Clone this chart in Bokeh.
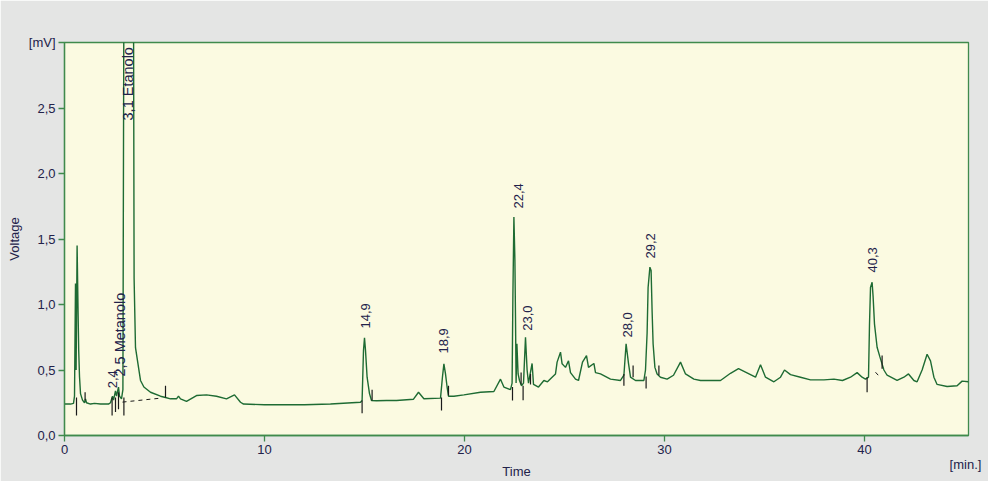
import math
from bokeh.plotting import figure
from bokeh.models import FixedTicker, LinearAxis, Range1d
from bokeh.core.properties import value
from bokeh.embed import file_html
from bokeh.resources import INLINE

# ---------------- data ----------------
time_min = [0.0, 0.3, 0.45, 0.5, 0.55, 0.58, 0.63, 0.68, 0.71, 0.75, 0.8, 0.9, 1.0, 1.05, 1.1, 1.3, 1.5, 1.8,
            2.2, 2.3, 2.4, 2.45, 2.55, 2.6, 2.7, 2.75, 2.85, 2.92, 2.97, 3.45, 3.48, 3.55, 3.8, 3.97, 4.3, 4.8,
            5.05, 5.3, 5.6, 5.7, 5.8, 6.1, 6.6, 7.1, 7.6, 8.1, 8.5, 8.8, 8.95, 10.0, 12.0, 13.3, 14.8, 14.88,
            14.95, 15.0, 15.05, 15.13, 15.25, 15.35, 15.6, 16.1, 16.6, 17.45, 17.7, 17.97, 18.8, 18.9, 18.97,
            19.05, 19.13, 19.2, 19.47, 19.97, 20.8, 21.47, 21.8, 21.97, 22.3, 22.38, 22.42, 22.47, 22.52, 22.55,
            22.58, 22.62, 22.68, 22.75, 22.85, 22.95, 23.05, 23.13, 23.2, 23.38, 23.45, 23.7, 23.97, 24.15,
            24.38, 24.55, 24.63, 24.8, 24.88, 25.05, 25.2, 25.3, 25.55, 25.7, 25.9, 26.1, 26.2, 26.47, 26.55,
            26.8, 27.3, 27.8, 27.97, 28.08, 28.2, 28.3, 28.55, 28.97, 29.05, 29.13, 29.18, 29.27, 29.33, 29.38,
            29.43, 29.52, 29.63, 29.8, 30.13, 30.45, 30.8, 31.05, 31.47, 31.8, 32.8, 33.3, 33.7, 34.1, 34.55,
            34.8, 35.05, 35.47, 35.8, 36.0, 36.3, 36.8, 37.3, 37.97, 38.47, 38.9, 39.3, 39.63, 39.88, 40.05,
            40.2, 40.25, 40.3, 40.38, 40.43, 40.5, 40.63, 40.77, 40.97, 41.13, 41.63, 41.97, 42.2, 42.47, 42.63,
            42.88, 43.13, 43.3, 43.47, 43.63, 44.13, 44.63, 44.88, 45.2]
voltage_mv = [0.24, 0.24, 0.245, 0.30, 1.16, 0.5, 1.45, 0.93, 0.65, 0.45, 0.32, 0.27, 0.25, 0.28, 0.25, 0.24, 0.245, 0.24,
              0.24, 0.25, 0.30, 0.27, 0.34, 0.30, 0.37, 0.30, 0.28, 0.35, 3.4, 3.4, 1.2, 0.67, 0.42, 0.37, 0.33, 0.30,
              0.29, 0.28, 0.28, 0.30, 0.28, 0.26, 0.305, 0.31, 0.30, 0.28, 0.31, 0.254, 0.24, 0.235, 0.235, 0.24, 0.254, 0.267,
              0.65, 0.746, 0.65, 0.445, 0.32, 0.267, 0.265, 0.267, 0.267, 0.277, 0.33, 0.28, 0.285, 0.45, 0.547,
              0.47, 0.37, 0.30, 0.30, 0.31, 0.33, 0.336, 0.43, 0.37, 0.35, 0.40, 1.07, 1.667, 1.34, 0.9,
              0.40, 0.70, 0.47, 0.42, 0.38, 0.40, 0.75, 0.50, 0.40, 0.55, 0.39, 0.37, 0.42, 0.41,
              0.445, 0.47, 0.56, 0.636, 0.547, 0.52, 0.57, 0.48, 0.43, 0.42, 0.56, 0.61, 0.52, 0.55, 0.48,
              0.47, 0.43, 0.42, 0.46, 0.70, 0.55, 0.445, 0.42, 0.42, 0.50, 0.78, 1.13, 1.285, 1.26, 0.95,
              0.70, 0.52, 0.47, 0.445, 0.43, 0.46, 0.56, 0.47, 0.43, 0.42, 0.42, 0.475, 0.51, 0.48, 0.445,
              0.54, 0.445, 0.41, 0.445, 0.50, 0.465, 0.445, 0.425, 0.425, 0.43, 0.42, 0.445, 0.48, 0.445, 0.43,
              0.445, 0.85, 1.13, 1.17, 1.06, 0.85, 0.674, 0.60, 0.50, 0.46, 0.42, 0.445, 0.47, 0.42, 0.41,
              0.50, 0.62, 0.57, 0.445, 0.39, 0.374, 0.38, 0.415, 0.41]

# integration markers (time, top, bottom)
mark_t = [0.6, 2.38, 2.55, 2.7, 2.97, 14.88, 18.85, 22.4, 22.93, 27.97, 29.08, 40.13,
          1.03, 5.05, 15.38, 19.2, 22.83, 23.3, 28.43, 29.72, 40.88]
mark_top = [0.29, 0.29, 0.29, 0.33, 0.29, 0.267, 0.29, 0.37, 0.38, 0.47, 0.45, 0.445,
            0.33, 0.38, 0.35, 0.38, 0.48, 0.47, 0.535, 0.535, 0.61]
mark_bot = [0.153, 0.153, 0.18, 0.20, 0.153, 0.17, 0.19, 0.267, 0.27, 0.38, 0.358, 0.33,
            0.267, 0.29, 0.267, 0.305, 0.39, 0.39, 0.445, 0.46, 0.51]

# dashed baselines
base_t0 = [2.9, 40.55]
base_v0 = [0.255, 0.483]
base_t1 = [4.8, 40.7]
base_v1 = [0.285, 0.458]

# peak labels: retention times
peak_text = ["2,4", "14,9", "18,9", "22,4", "23,0", "28,0", "29,2", "40,3"]
peak_x = [2.4, 15.05, 18.95, 22.7, 23.15, 28.15, 29.3, 40.4]
peak_y = [0.36, 0.817, 0.626, 1.733, 0.80, 0.748, 1.351, 1.244]
# peak labels: named compounds
name_text = ["3,1 Etanolo", "2,5 Metanolo"]
name_x = [3.18, 2.75]
name_y = [2.405, 0.45]

x_ticks = [0, 10, 20, 30, 40]
x_tick_labels = ["0", "10", "20", "30", "40"]
y_ticks = [0.0, 0.5, 1.0, 1.5, 2.0, 2.5, 3.0]
y_tick_labels = ["0,0", "0,5", "1,0", "1,5", "2,0", "2,5", "[mV]"]
unit_tick = [45.05]
unit_label = ["[min.]"]

# ---------------- styling ----------------
TRACE = "#1e6b33"
FRAME = "#3f8a4c"
TEXT = "#22224a"
FONT = "Liberation Sans"

p = figure(width=988, height=481, x_range=Range1d(0, 45.2), y_range=Range1d(0, 3.0),
           output_backend="svg", toolbar_location=None,
           min_border_left=64, min_border_right=20, min_border_top=42, min_border_bottom=46)
p.background_fill_color = "#fbfae1"
p.border_fill_color = "#e4e5e4"
p.outline_line_color = FRAME
p.outline_line_width = 1.3
p.xgrid.visible = False
p.ygrid.visible = False

unit_axis = LinearAxis()
p.add_layout(unit_axis, "below")

for ax, ticks, labs in ((p.xaxis[0], x_ticks, x_tick_labels), (p.yaxis[0], y_ticks, y_tick_labels),
                        (unit_axis, unit_tick, unit_label)):
    ax.ticker = FixedTicker(ticks=ticks)
    ax.major_label_overrides = {t: l for t, l in zip(ticks, labs)}
    ax.minor_tick_line_color = None
    ax.major_tick_in = 0
    ax.major_tick_out = 6
    ax.major_tick_line_color = FRAME
    ax.major_tick_line_width = 1.3
    ax.axis_line_color = FRAME
    ax.axis_line_width = 1.3
    ax.major_label_text_font = FONT
    ax.major_label_text_font_size = "13px"
    ax.major_label_text_color = TEXT
    ax.major_label_standoff = 3
    ax.axis_label_text_font = FONT
    ax.axis_label_text_font_size = "13px"
    ax.axis_label_text_font_style = "normal"
    ax.axis_label_text_color = TEXT

# the unit axis only carries "[min.]" and the "Time" title
unit_axis.axis_line_color = None
unit_axis.major_tick_line_color = None
unit_axis.major_tick_out = 0
unit_axis.major_label_standoff = 0
unit_axis.axis_label = "Time"
unit_axis.axis_label_standoff = -11

p.yaxis.axis_label = "Voltage"
p.yaxis.axis_label_standoff = 4

p.line(time_min, voltage_mv, line_color=TRACE, line_width=1.4)
p.segment(x0=mark_t, y0=mark_bot, x1=mark_t, y1=mark_top, line_color="#1a1a1a", line_width=1.2)
p.segment(x0=base_t0, y0=base_v0, x1=base_t1, y1=base_v1, line_color="#1a1a1a", line_width=1,
          line_dash="4 4")

p.text(x=peak_x, y=peak_y, text=peak_text, angle=math.pi / 2, text_align="left",
       text_baseline="middle", text_font=value(FONT), text_font_size=value("13px"),
       text_color=TEXT)
p.text(x=name_x, y=name_y, text=name_text, angle=math.pi / 2, text_align="left",
       text_baseline="middle", text_font=value(FONT), text_font_size=value("14.5px"),
       text_color=TEXT)

open("out.html", "w").write(file_html(p, INLINE))
